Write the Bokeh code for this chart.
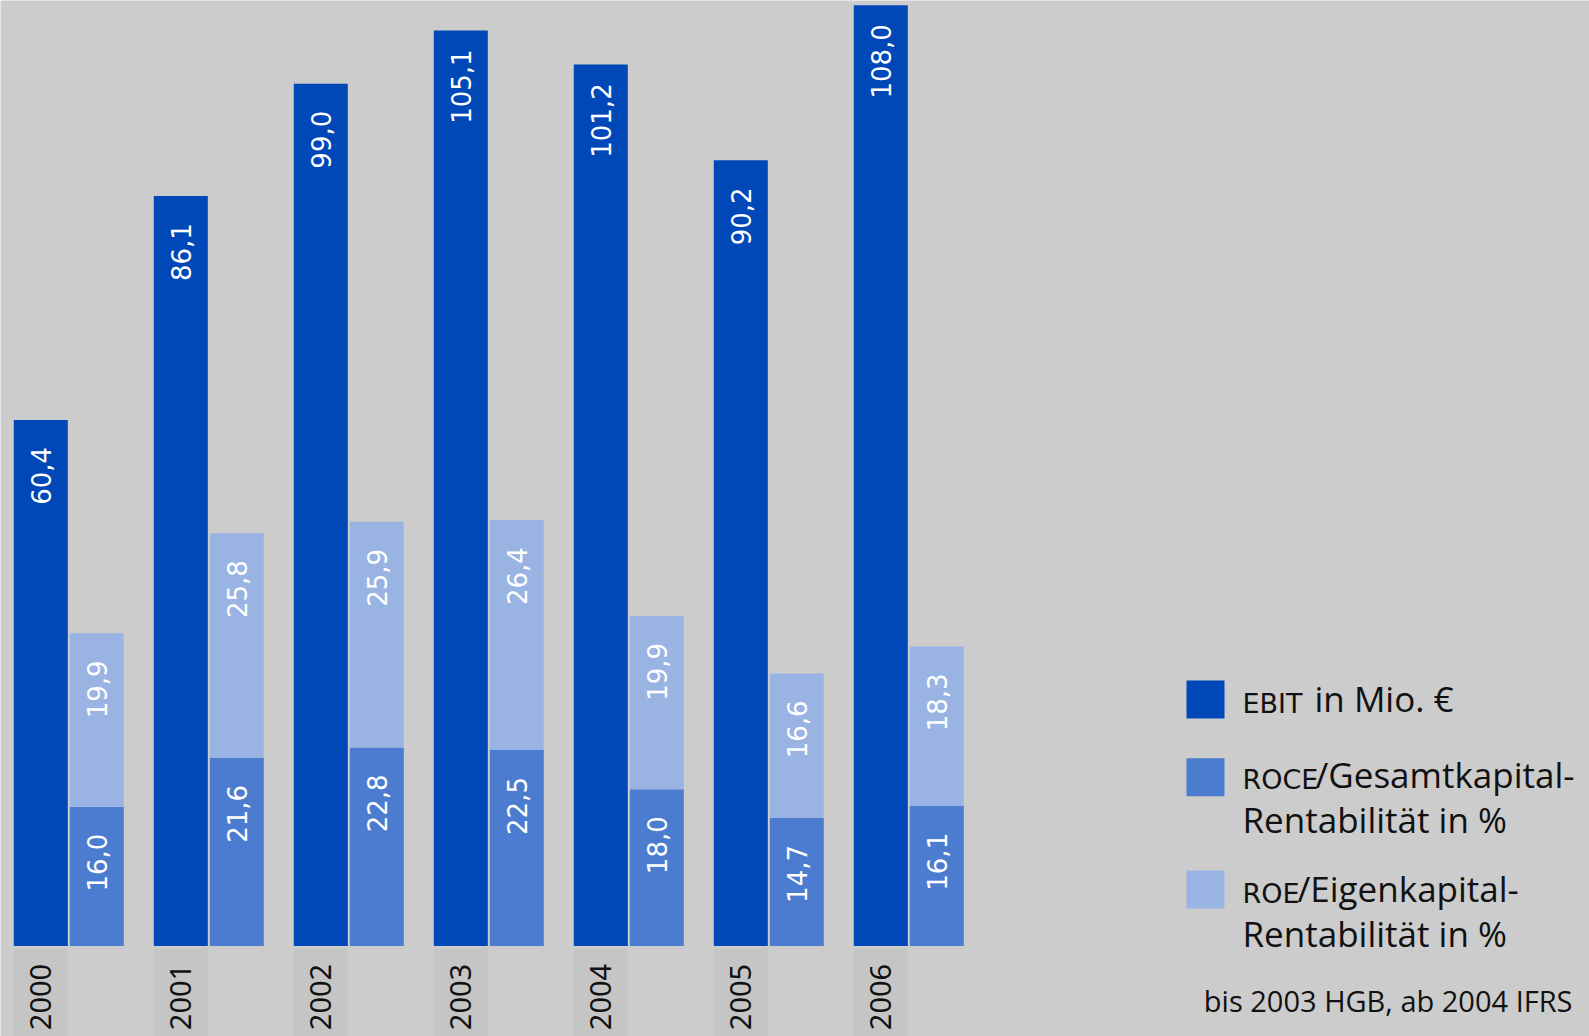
import numpy as np
from bokeh.plotting import figure
from bokeh.models import Range1d, ColumnDataSource
from bokeh.core.properties import value
from bokeh.embed import file_html
from bokeh.resources import INLINE

# ---- data ----
years = ["2000", "2001", "2002", "2003", "2004", "2005", "2006"]
ebit = [60.4, 86.1, 99.0, 105.1, 101.2, 90.2, 108.0]
roce = [16.0, 21.6, 22.8, 22.5, 18.0, 14.7, 16.1]
roe = [19.9, 25.8, 25.9, 26.4, 19.9, 16.6, 18.3]
legend_labels = [("EBIT", " in Mio. €", None),
                 ("ROCE", "/Gesamtkapital-", "Rentabilität in %"),
                 ("ROE", "/Eigenkapital-", "Rentabilität in %")]
footnote = "bis 2003 HGB, ab 2004 IFRS"

C_EBIT = "#0047b7"
C_ROCE = "#4c7ccf"
C_ROE = "#99b4e3"
BG = "#cccccc"

W, H = 1589, 1036
GROUP_PX = 140.0
X0_PX = 68.3          # page x of first group centre
BASE_PX = 945.5       # page y of value 0
PX_PER_UNIT = 8.71


def dx(px):
    return (px - X0_PX) / GROUP_PX


def dy(py):
    return (BASE_PX - py) / PX_PER_UNIT


p = figure(width=W, height=H, output_backend="svg", toolbar_location=None,
           x_range=Range1d(dx(0), dx(W)), y_range=Range1d(dy(H), dy(0)),
           min_border=0, background_fill_color=BG, border_fill_color=BG,
           outline_line_color=None)
p.axis.visible = False
p.grid.visible = False

idx = np.arange(len(years))
bw = 54 / GROUP_PX
off = 28 / GROUP_PX

roce_arr = np.array(roce)
roe_arr = np.array(roe)
src = ColumnDataSource(dict(
    xe=idx - off, xr=idx + off, ebit=ebit, roce=roce,
    roe_top=roce_arr + roe_arr, zero=[0] * len(years),
    ebit_lbl=[f"{v:.1f}".replace(".", ",") for v in ebit],
    roce_lbl=[f"{v:.1f}".replace(".", ",") for v in roce],
    roe_lbl=[f"{v:.1f}".replace(".", ",") for v in roe],
    years=years,
    ybox_top=[dy(948)] * len(years), ybox_bot=[dy(1060)] * len(years),
    yyear=[dy(996.5)] * len(years),
))

p.vbar(x="xe", top="ebit", bottom="zero", width=bw, source=src,
       fill_color=C_EBIT, line_color=None)
p.vbar(x="xr", top="roce", bottom="zero", width=bw, source=src,
       fill_color=C_ROCE, line_color=None)
p.vbar(x="xr", top="roe_top", bottom="roce", width=bw, source=src,
       fill_color=C_ROE, line_color=None)

# year boxes and labels
p.vbar(x="xe", top="ybox_top", bottom="ybox_bot", width=bw, source=src,
       fill_color="#c5c5c5", line_color=None)
p.text(x="xe", y="yyear", text="years", source=src, angle=np.pi / 2,
       text_align="center", text_baseline="middle",
       text_font=value("Noto Sans"), text_font_size="29px", text_color="#111111")

# value labels
lbl_kw = dict(angle=np.pi / 2, text_align="center", text_baseline="middle",
              text_font=value("DejaVu Sans"), text_font_size="26px",
              text_color="white", y_offset=56, source=src)
p.text(x="xe", y="ebit", text="ebit_lbl", **lbl_kw)
p.text(x="xr", y="roce", text="roce_lbl", **lbl_kw)
p.text(x="xr", y="roe_top", text="roe_lbl", **lbl_kw)

# legend
sw_tops = [680, 757.7, 870]
sw_colors = [C_EBIT, C_ROCE, C_ROE]
caps_ends = [1314, 1315, 1297]
base1 = [697.7, 774.3, 887.7]
for (caps, rest, line2), t, c, ce, b in zip(legend_labels, sw_tops, sw_colors, caps_ends, base1):
    p.quad(left=[dx(1186)], right=[dx(1224)], top=[dy(t)], bottom=[dy(t + 38)],
           fill_color=c, line_color=None)
    p.text(x=[dx(1242)], y=[dy(b + 5)], text=[caps], text_font=value("DejaVu Sans"),
           text_font_size="27px", text_baseline="alphabetic", text_align="left",
           text_color="#111111")
    p.text(x=[dx(ce)], y=[dy(b)], text=[rest], text_font=value("Open Sans"),
           text_font_size="35px", text_baseline="alphabetic", text_align="left",
           text_color="#111111")
    if line2:
        p.text(x=[dx(1242)], y=[dy(b + 45)], text=[line2], text_font=value("Open Sans"),
               text_font_size="35px", text_baseline="alphabetic", text_align="left",
               text_color="#111111")

p.text(x=[dx(1572)], y=[dy(999.7)], text=[footnote], text_font=value("Open Sans"),
       text_font_size="29px", text_baseline="alphabetic", text_align="right",
       text_color="#111111")

open("out.html", "w").write(file_html(p, INLINE))
